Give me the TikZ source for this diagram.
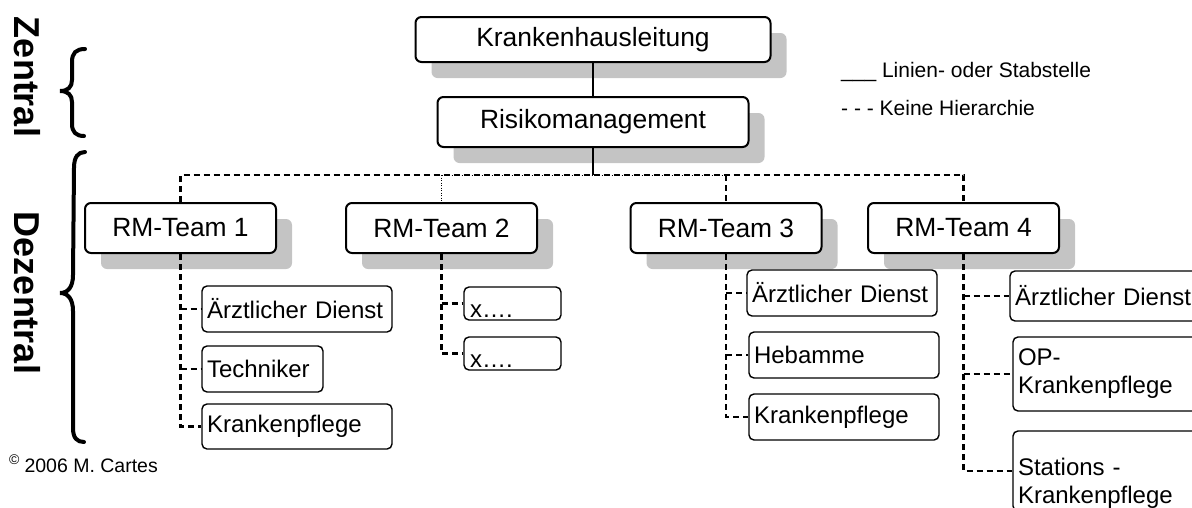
\documentclass[tikz,border=0pt]{standalone}
\usepackage{fontspec}
\setmainfont{Liberation Sans}
\usetikzlibrary{shadows}
\definecolor{shadowgray}{RGB}{196,196,196}
\newcommand\fhead{\fontsize{26.4}{31}\selectfont}
\newcommand\fitem{\fontsize{24}{28}\selectfont}
\newcommand\fnote{\fontsize{21}{25}\selectfont}
\newcommand\fcopy{\fontsize{19.5}{24}\selectfont}
\newcommand\fside{\bfseries\fontsize{36}{40}\selectfont}
\begin{document}
\begin{tikzpicture}[x=1pt,y=-1pt,
  unitbox/.style={draw=black,line width=2pt,fill=white,rounded corners=6pt,
    minimum width=191pt,minimum height=50pt,inner sep=0pt,font=\fhead,
    drop shadow={shadow xshift=16pt,shadow yshift=-16pt,fill=shadowgray,opacity=1}},
  itembox/.style={draw=black,line width=1.4pt,fill=white,rounded corners=5pt,
    inner xsep=5pt,inner ysep=0pt,align=left,font=\fitem},
  solidlink/.style={line width=2.2pt},
  dashlink/.style={line width=2.2pt,dash pattern=on 6pt off 4pt},
  dotlink/.style={line width=0.9pt,dash pattern=on 1pt off 1.5pt},
  bracestroke/.style={line width=4pt,line cap=round}
]
\useasboundingbox (0,0) rectangle (1192,507);
\clip (0,0) rectangle (1192,507);

% central level
\node[unitbox,minimum width=355pt,minimum height=45pt] (kh) at (593,39.5) {Krankenhausleitung};
\node[unitbox,minimum width=311pt] (rm) at (593,122) {Risikomanagement};

% decentral teams
\node[unitbox] (t1) at (180.5,228) {RM-Team 1};
\node[unitbox] (t2) at (441.5,228) {RM-Team 2};
\node[unitbox] (t3) at (726,228) {RM-Team 3};
\node[unitbox] (t4) at (963.5,228) {RM-Team 4};

% members of team 1
\node[itembox,text width=180pt,minimum height=46pt] (a1) at (297,309) {Ärztlicher Dienst};
\node[itembox,text width=111pt,minimum height=46pt] (e1) at (262.5,369) {Techniker};
\node[itembox,text width=180pt,minimum height=45pt] (k1) at (297,426.5) {Krankenpflege};

% members of team 2 (text sits on the lower edge)
\node[itembox,text width=85pt,text height=30pt,text depth=3pt,inner xsep=6pt] (x1) at (512.5,303.5) {x….};
\node[itembox,text width=85pt,text height=30pt,text depth=3pt,inner xsep=6pt] (x2) at (512.5,353.5) {x….};

% members of team 3
\node[itembox,text width=180pt,minimum height=46pt] (a3) at (842,293) {Ärztlicher Dienst};
\node[itembox,text width=180pt,minimum height=46pt] (h3) at (844,355) {Hebamme};
\node[itembox,text width=180pt,minimum height=46pt] (k3) at (844,417) {Krankenpflege};

% members of team 4
\node[itembox,text width=180pt,minimum height=50pt] (a4) at (1105,296) {Ärztlicher Dienst};
\node[itembox,text width=180pt,minimum height=74pt] (o4) at (1108,374) {OP-\\Krankenpflege};
\node[itembox,text width=180pt,minimum height=80pt,text depth=8pt] (s4) at (1108,471) {Stations -\\Krankenpflege};

% line relations at the top
\coordinate (bus) at (593,175);
\draw[solidlink] (kh.south) -- (rm.north);
\draw[solidlink] (rm.south) -- (bus);

% links without hierarchy
\draw[dashlink] (t1.north) -- (t1.north |- bus) -- (t4.north |- bus) -- (t4.north);
\draw[dashlink] (t3.north |- bus) -- (t3.north);
\draw[dotlink] (t2.north |- bus) -- (t2.north);
\draw[dotlink] (t2.north |- bus) -- (t3.north |- bus);

\draw[dashlink] (t1.south) -- (t1.south |- k1.west) -- (k1.west);
\draw[dashlink] (t1.south |- a1.west) -- (a1.west);
\draw[dashlink] (t1.south |- e1.west) -- (e1.west);

\draw[dashlink] (t2.south) -- (t2.south |- x2.west) -- (x2.west);
\draw[dashlink] (t2.south |- x1.west) -- (x1.west);

\draw[dashlink] (t3.south) -- (t3.south |- k3.west) -- (k3.west);
\draw[dashlink] (t3.south |- a3.west) -- (a3.west);
\draw[dashlink] (t3.south |- h3.west) -- (h3.west);

\draw[dashlink] (t4.south) -- (t4.south |- s4.west) -- (s4.west);
\draw[dashlink] (t4.south |- a4.west) -- (a4.west);
\draw[dashlink] (t4.south |- o4.west) -- (o4.west);

% legend
\node[anchor=west,font=\fnote,inner sep=0pt] (lg1) at (841,72) {\_\_\_ Linien- oder Stabstelle};
\node[anchor=west,font=\fnote,inner sep=0pt] (lg2) at (841,108) {- - - Keine Hierarchie};

% level braces and captions
\draw[bracestroke] (85,49) .. controls (76,49) and (72,53) .. (72,62) -- (72,80)
  .. controls (72,87) and (68,91) .. (60,91)
  .. controls (68,91) and (72,95) .. (72,102) -- (72,124)
  .. controls (72,132) and (76,136) .. (84,136);
\draw[bracestroke] (85,152) .. controls (78,152) and (74,157) .. (74,168) -- (73,275)
  .. controls (73,287) and (68,293) .. (60,293)
  .. controls (68,293) and (73,299) .. (73,311) -- (73,428)
  .. controls (73,438) and (77,442) .. (84,442);
\node[font=\fside,rotate=-90,inner sep=0pt] (zen) at (27,77) {Zentral};
\node[font=\fside,rotate=-90,inner sep=0pt] (dez) at (27,293) {Dezentral};

% copyright line
\node[anchor=west,font=\fcopy,inner sep=0pt] (copy) at (9,464)
  {\raisebox{8pt}{\fontsize{14}{14}\selectfont ©}\hspace{5pt}2006 M. Cartes};
\end{tikzpicture}
\end{document}
